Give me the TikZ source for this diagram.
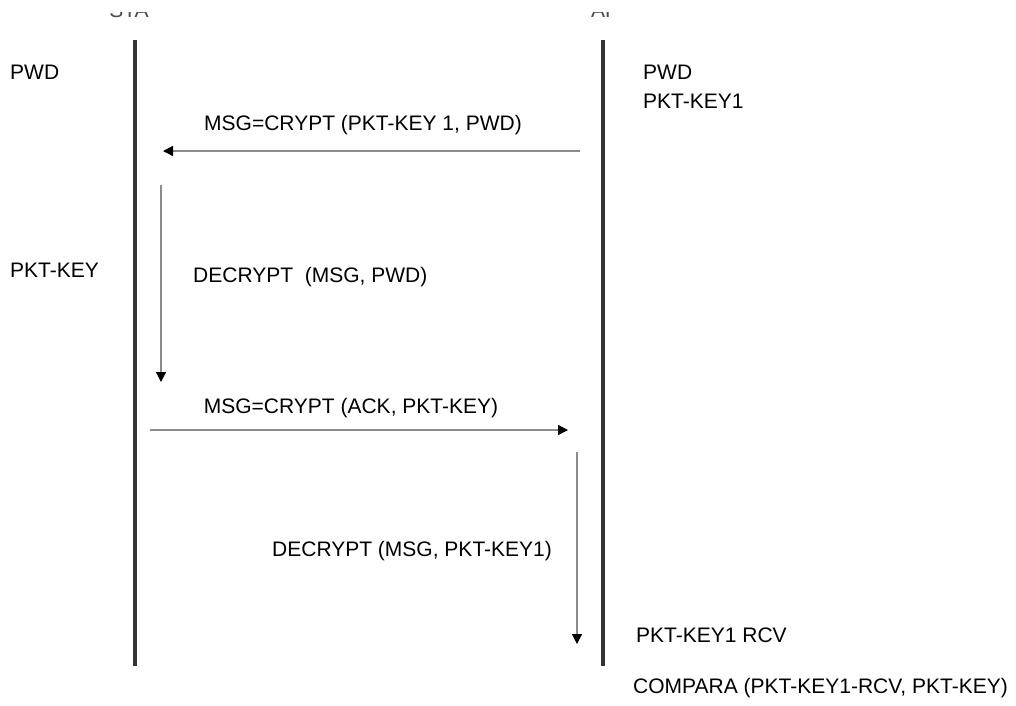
\documentclass[tikz,border=0pt]{standalone}
\usepackage{fontspec}
\setmainfont{Liberation Sans}
\usetikzlibrary{arrows.meta}
\begin{document}
\begin{tikzpicture}[x=1pt,y=-1pt,
  lbl/.style={font=\fontsize{21}{24}\selectfont, inner sep=0pt, text=black},
  lifeline/.style={line width=4.5pt, black!80},
  msg/.style={line width=1.3pt, black!45,
    -{Triangle[length=10pt,width=10pt,color=black,fill=black]}},
  toplbl/.style={font=\fontsize{21}{24}\selectfont, inner sep=0pt, text=black!70}]
\useasboundingbox (0,0) rectangle (1016,705);
\fill[white] (0,0) rectangle (1016,705);

% party names at the top (only their lower edge is printed)
\begin{scope}
  \clip (0,12.5) rectangle (1016,30);
  \node[toplbl, anchor=base] (nameA) at (129,17) {STA};
  \node[toplbl, anchor=base] (nameB) at (605,17) {AP};
\end{scope}

% lifelines
\coordinate (topA) at (135,40);
\coordinate (botA) at (135,666);
\coordinate (topB) at (603,40);
\coordinate (botB) at (603,666);
\draw[lifeline] (topA) -- (botA);
\draw[lifeline] (topB) -- (botB);

% local state
\node[lbl, anchor=west] (pwdA) at (10,72) {PWD};
\node[lbl, anchor=west] (pktA) at (10,270) {PKT-KEY};
\node[lbl, anchor=west] (pwdB) at (643,72) {PWD};
\node[lbl, anchor=west] (pk1B) at (643,101) {PKT-KEY1};
\node[lbl, anchor=west] (rcvB) at (636,635) {PKT-KEY1 RCV};
\node[lbl, anchor=west] (cmpB) at (633,688) {COMPARA (PKT-KEY1-RCV, PKT-KEY)};

% first message: AP -> STA
\coordinate (m1s) at (580,151);
\coordinate (m1e) at (163,151);
\draw[msg] (m1s) -- (m1e);
\node[lbl] (m1) at (363,125) {MSG=CRYPT (PKT-KEY 1, PWD)};

% decryption at STA
\coordinate (d1s) at (161,185);
\coordinate (d1e) at (161,382);
\draw[msg] (d1s) -- (d1e);
\node[lbl, anchor=west] (d1) at (193,277) {DECRYPT\ \ (MSG, PWD)};

% second message: STA -> AP
\coordinate (m2s) at (150,430);
\coordinate (m2e) at (568,430);
\draw[msg] (m2s) -- (m2e);
\node[lbl] (m2) at (351,408) {MSG=CRYPT (ACK, PKT-KEY)};

% decryption at AP
\coordinate (d2s) at (577,452);
\coordinate (d2e) at (577,644);
\draw[msg] (d2s) -- (d2e);
\node[lbl, anchor=west] (d2) at (272,551) {DECRYPT (MSG, PKT-KEY1)};
\end{tikzpicture}
\end{document}
